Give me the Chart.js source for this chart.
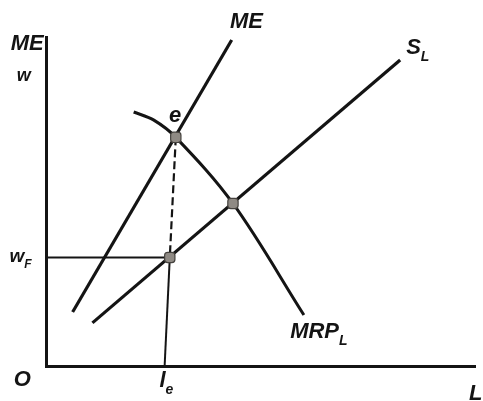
<!DOCTYPE html>
<html>
<head>
<meta charset="utf-8">
<script src="https://cdn.jsdelivr.net/npm/chart.js@4.4.0/dist/chart.umd.min.js"></script>
<style>
	html, body { margin: 0; padding: 0; background: #fff; }
	#box { width: 483px; height: 401px; }
</style>
</head>
<body>
<div id="box"><canvas id="monopsony"></canvas></div>
<script>
// curves (x: labour, y: wage, both 0..100)
const meCurve = [{x: 6.2, y: 16.4}, {x: 43.2, y: 99.1}];
const supplyCurve = [{x: 10.8, y: 13.1}, {x: 82.4, y: 93.0}];
const mrpCurve = [
	{x: 20.4, y: 77.2}, {x: 25.0, y: 74.8}, {x: 30.2, y: 69.5},
	{x: 43.5, y: 49.4}, {x: 60.0, y: 15.5}
];
const wageLine = [{x: 0, y: 33.0}, {x: 28.8, y: 33.0}];
const dashedDrop = [{x: 30.2, y: 69.5}, {x: 28.8, y: 33.0}];
const solidDrop = [{x: 28.8, y: 33.0}, {x: 27.6, y: 0}];
const keyPoints = [{x: 30.2, y: 69.5}, {x: 28.8, y: 33.0}, {x: 43.5, y: 49.4}];

// text: main, subscript, anchor (left edge, middle) in data units
const labels = [
	{t: 'ME', s: '', x: -8.2, y: 97.9, size: 22},
	{t: 'w', s: '', x: -6.8, y: 88.2, size: 18},
	{t: 'ME', s: '', x: 42.8, y: 104.6, size: 22},
	{t: 'S', s: 'L', x: 83.8, y: 96.7, size: 22},
	{t: 'e', s: '', x: 28.6, y: 75.9, size: 22},
	{t: 'w', s: 'F', x: -8.5, y: 33.1, size: 19},
	{t: 'O', s: '', x: -7.5, y: -4.3, size: 22},
	{t: 'l', s: 'e', x: 26.4, y: -4.6, size: 22},
	{t: 'MRP', s: 'L', x: 56.8, y: 10.3, size: 22},
	{t: 'L', s: '', x: 98.4, y: -8.5, size: 22}
];

const ink = '#141414';

function line(data, width, dash) {
	return {
		data: data,
		showLine: true,
		borderColor: ink,
		borderWidth: width,
		borderDash: dash || [],
		pointRadius: 0,
		tension: 0,
		clip: false
	};
}

const textPlugin = {
	id: 'diagramText',
	afterDraw(chart) {
		const ctx = chart.ctx;
		const xs = chart.scales.x, ys = chart.scales.y;
		ctx.save();
		ctx.fillStyle = ink;
		ctx.textBaseline = 'middle';
		ctx.textAlign = 'left';
		labels.forEach(l => {
			const px = xs.getPixelForValue(l.x);
			const py = ys.getPixelForValue(l.y);
			ctx.font = 'italic bold ' + l.size + 'px "Liberation Sans", Arial, sans-serif';
			ctx.fillText(l.t, px, py);
			if (l.s) {
				const w = ctx.measureText(l.t).width;
				ctx.font = 'italic bold ' + Math.round(l.size * 0.65) + 'px "Liberation Sans", Arial, sans-serif';
				ctx.fillText(l.s, px + w, py + l.size * 0.4);
			}
		});
		ctx.restore();
	}
};

const mrp = line(mrpCurve, 3);
mrp.tension = 0.35;

const config_diagram = {
	type: 'scatter',
	data: {
		datasets: [
			line(meCurve, 3.2),
			line(supplyCurve, 3.2),
			mrp,
			line(wageLine, 2),
			line(dashedDrop, 2.2, [8, 4]),
			line(solidDrop, 2),
			{
				data: keyPoints,
				order: -1,
				pointRadius: 6,
				pointStyle: 'rectRounded',
				backgroundColor: '#8f8a84',
				borderColor: '#45423e',
				borderWidth: 1.2,
				showLine: false
			}
		]
	},
	options: {
		responsive: true,
		maintainAspectRatio: false,
		animation: false,
		layout: {
			padding: {left: 46, right: 0, top: 37, bottom: 35}
		},
		plugins: {
			legend: {display: false},
			tooltip: {enabled: false},
			title: {display: false}
		},
		scales: {
			x: {
				type: 'linear', min: 0, max: 100,
				ticks: {display: false},
				grid: {display: false, drawTicks: false},
				border: {display: true, color: ink, width: 3}
			},
			y: {
				type: 'linear', min: 0, max: 100,
				ticks: {display: false},
				grid: {display: false, drawTicks: false},
				border: {display: true, color: ink, width: 3}
			}
		}
	},
	plugins: [textPlugin]
};

const diagram = new Chart(document.getElementById('monopsony'), config_diagram);
</script>
</body>
</html>
